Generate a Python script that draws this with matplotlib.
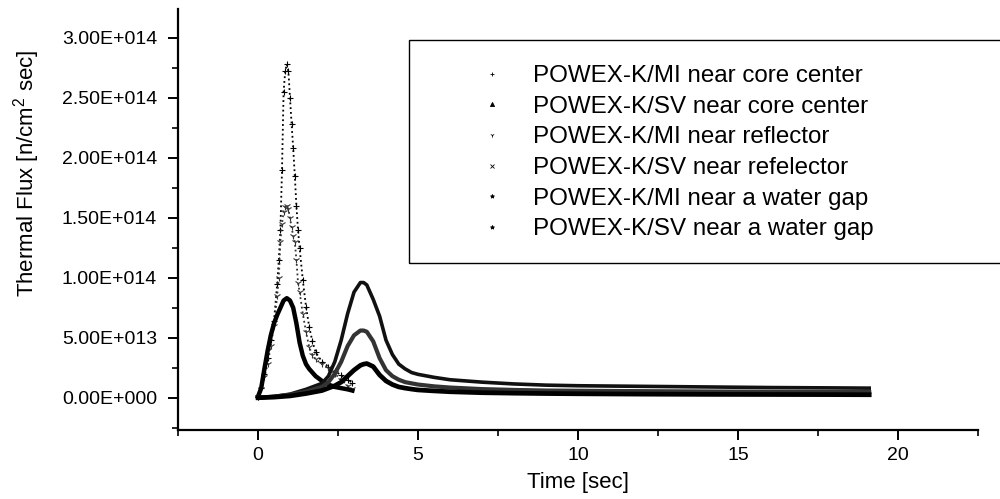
import matplotlib
matplotlib.use('Agg')
import matplotlib.pyplot as plt
import matplotlib.ticker as mticker
from matplotlib.patches import Rectangle
from matplotlib.lines import Line2D

plt.rcParams['font.family'] = ['Liberation Sans', 'DejaVu Sans']
plt.rcParams['mathtext.default'] = 'regular'

# ---- data (flux in units of 1e13 n/cm2 sec) ----
# POWEX-K/MI curves (early peak, t = 0 .. ~3 s)
t_mi_cc = [0, 0.1, 0.2, 0.3, 0.4, 0.5, 0.6, 0.65, 0.7, 0.75, 0.8, 0.85, 0.9, 0.95, 1.0, 1.05, 1.1,
           1.15, 1.2, 1.25, 1.3, 1.4, 1.5, 1.6, 1.7, 1.8, 2.0, 2.2, 2.4, 2.6, 2.8, 2.95]
f_mi_cc = [0.1, 0.8, 2.0, 3.3, 4.8, 6.4, 9.5, 11.5, 14.0, 19.0, 25.5, 27.2, 27.8, 27.2, 25.0, 22.8, 20.8,
           18.5, 16.0, 14.0, 12.5, 9.8, 7.6, 5.9, 4.7, 3.8, 3.0, 2.6, 2.2, 1.9, 1.5, 1.25]

t_mi_rf = [0, 0.1, 0.2, 0.3, 0.4, 0.5, 0.6, 0.65, 0.7, 0.75, 0.8, 0.85, 0.9, 0.95, 1.0, 1.05, 1.1,
           1.15, 1.2, 1.25, 1.3, 1.4, 1.5, 1.6, 1.7, 1.8, 2.0, 2.2, 2.4, 2.6, 2.8, 2.95]
f_mi_rf = [0.1, 0.7, 1.7, 2.8, 4.3, 6.0, 8.5, 10.0, 13.0, 14.5, 15.5, 15.9, 16.0, 15.7, 15.0, 14.2, 13.5,
           13.0, 11.5, 9.6, 8.8, 7.0, 5.5, 4.2, 3.6, 3.2, 2.8, 2.5, 2.0, 1.5, 1.0, 0.7]

t_mi_wg = [0, 0.1, 0.2, 0.3, 0.4, 0.5, 0.6, 0.7, 0.8, 0.9, 1.0, 1.1, 1.2, 1.3, 1.4, 1.5, 1.6,
           1.7, 1.8, 2.0, 2.2, 2.4, 2.6, 2.8, 2.95]
f_mi_wg = [0.1, 0.8, 2.4, 3.9, 5.2, 6.2, 6.9, 7.5, 8.1, 8.3, 8.1, 7.5, 6.2, 4.6, 3.5, 2.8, 2.4,
           2.1, 1.8, 1.4, 1.1, 0.9, 0.8, 0.7, 0.6]

# POWEX-K/SV curves (late peak, t = 0 .. ~19 s)
t_sv = [0, 0.5, 1.0, 1.5, 2.0, 2.2, 2.4, 2.6, 2.8, 3.0, 3.2, 3.3, 3.4, 3.6, 3.8, 4.0, 4.2, 4.4, 4.6,
        4.8, 5.0, 5.5, 6, 7, 8, 9, 10, 12, 14, 16, 18, 19.1]
f_sv_cc = [0, 0.1, 0.3, 0.7, 1.2, 1.8, 3.0, 4.8, 7.0, 8.8, 9.6, 9.6, 9.4, 8.2, 6.8, 4.8, 3.6, 2.8, 2.4,
           2.1, 1.95, 1.7, 1.5, 1.3, 1.15, 1.05, 1.0, 0.95, 0.9, 0.85, 0.82, 0.8]
f_sv_rf = [0, 0.1, 0.25, 0.5, 0.9, 1.3, 2.0, 3.0, 4.3, 5.2, 5.6, 5.6, 5.5, 4.7, 3.3, 2.3, 1.8, 1.5, 1.3,
           1.2, 1.1, 0.95, 0.85, 0.72, 0.65, 0.6, 0.58, 0.55, 0.52, 0.5, 0.48, 0.47]
f_sv_wg = [0, 0.05, 0.15, 0.35, 0.6, 0.8, 1.0, 1.3, 1.8, 2.3, 2.7, 2.8, 2.85, 2.6, 1.9, 1.4, 1.1, 0.9, 0.8,
           0.72, 0.65, 0.57, 0.5, 0.42, 0.38, 0.35, 0.33, 0.3, 0.28, 0.27, 0.26, 0.25]

labels = ['POWEX-K/MI near core center', 'POWEX-K/SV near core center',
          'POWEX-K/MI near reflector', 'POWEX-K/SV near refelector',
          'POWEX-K/MI near a water gap', 'POWEX-K/SV near a water gap']
markers = ['+', '^', '1', 'x', '*', '*']

yticks = [0, 5e13, 1e14, 1.5e14, 2e14, 2.5e14, 3e14]
xticks = [0, 5, 10, 15, 20]

scale = 1e13

fig = plt.figure(figsize=(10, 4.99), dpi=100)
ax = fig.add_axes([0.178, 0.138, 0.800, 0.844])

# sparse-marker curves (early, tall peaks)
ax.plot(t_mi_cc, [v * scale for v in f_mi_cc], ls=':', lw=1.3, color='black',
        marker='+', ms=4, mew=0.8)
ax.plot(t_mi_rf, [v * scale for v in f_mi_rf], ls=':', lw=1.3, color='#333333',
        marker='1', ms=5, mew=0.8)
# dense curves
ax.plot(t_mi_wg, [v * scale for v in f_mi_wg], ls='-', lw=3.2, color='black')
ax.plot(t_sv, [v * scale for v in f_sv_cc], ls='-', lw=2.6, color='#111111')
ax.plot(t_sv, [v * scale for v in f_sv_rf], ls='-', lw=3.0, color='#333333')
ax.plot(t_sv, [v * scale for v in f_sv_wg], ls='-', lw=3.4, color='black')

ax.set_xlim(-2.5, 22.5)
ax.set_ylim(-2.7e13, 3.24e14)
ax.set_xticks(xticks)
ax.set_yticks(yticks)
ax.xaxis.set_minor_locator(mticker.MultipleLocator(2.5))
ax.yaxis.set_minor_locator(mticker.MultipleLocator(2.5e13))


def sci3(v, pos):
    if v == 0:
        return '0.00E+000'
    s = '%.2E' % v
    mant, ex = s.split('E')
    sign = ex[0]
    return '%sE%s%03d' % (mant, sign, abs(int(ex)))


ax.yaxis.set_major_formatter(mticker.FuncFormatter(sci3))
for side in ['top', 'right']:
    ax.spines[side].set_visible(False)
for side in ['left', 'bottom']:
    ax.spines[side].set_linewidth(1.6)
ax.tick_params(which='major', direction='out', length=7, width=1.4, labelsize=14, pad=5)
ax.tick_params(which='minor', direction='out', length=4, width=1.2)
ax.tick_params(axis='y', which='major', pad=8)

ax.set_xlabel('Time [sec]', fontsize=16)
ax.set_ylabel('Thermal Flux [n/cm$^2$ sec]', fontsize=16)
ax.yaxis.set_label_coords(-0.17, 0.61)
ax.xaxis.set_label_coords(0.5, -0.1)

# legend (markers only, frame drawn separately)
handles = [Line2D([], [], ls='none', marker=m, ms=3, mew=0.6, color='black') for m in markers]
fig.legend(handles, labels, loc='upper left', bbox_to_anchor=(0.482, 1 - 65 / 499),
           frameon=False, fontsize=17.4, handlelength=0.85, handletextpad=1.25,
           labelspacing=0.36, borderpad=0, borderaxespad=0)
fig.patches.append(Rectangle((0.409, 1 - 263 / 499), 0.62, 223 / 499, transform=fig.transFigure,
                             fill=False, edgecolor='black', lw=1.0, clip_on=False))

plt.savefig('out.png', dpi=100)
